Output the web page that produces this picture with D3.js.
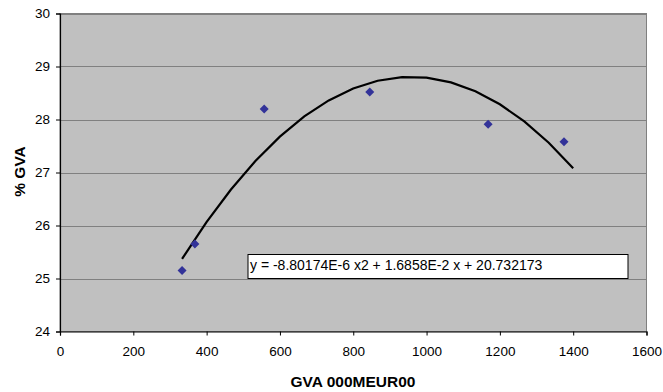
<!DOCTYPE html>
<html>
<head>
<meta charset="utf-8">
<script src="https://cdn.jsdelivr.net/npm/d3@7"></script>
<style>
  html, body { margin: 0; padding: 0; background: #fff; }
  svg { display: block; font-family: Arial, "Liberation Sans", sans-serif; }
</style>
</head>
<body>
<svg id="chart" width="663" height="392"></svg>
<script>
// Observed GVA (000 MEUR) against share of GVA (%)
const gvaValues = [333, 368, 557, 845, 1168, 1375];
const gvaShare  = [25.15, 25.65, 28.20, 28.52, 27.91, 27.58];

// Quadratic trendline: y = a x^2 + b x + c
const trendCoef = { a: -8.80174e-6, b: 1.6858e-2, c: 20.732173 };
const trendRange = [333, 1400];
const trendLabel = "y = -8.80174E-6 x2 + 1.6858E-2 x + 20.732173";

const xTicks = [0, 200, 400, 600, 800, 1000, 1200, 1400, 1600];
const yTicks = [24, 25, 26, 27, 28, 29, 30];

const svg = d3.select("#chart");
const plot = { left: 60, top: 13.5, right: 646.5, bottom: 331.5 };

const x = d3.scaleLinear().domain([0, 1600]).range([plot.left, plot.right]);
const y = d3.scaleLinear().domain([24, 30]).range([plot.bottom, plot.top]);

// plot background and frame
svg.append("rect")
  .attr("x", plot.left).attr("y", plot.top)
  .attr("width", plot.right - plot.left).attr("height", plot.bottom - plot.top)
  .attr("fill", "#c0c0c0").attr("stroke", "#808080").attr("stroke-width", 1);

// horizontal gridlines
svg.append("g").selectAll("line").data(yTicks.slice(1)).join("line")
  .attr("x1", plot.left).attr("x2", plot.right)
  .attr("y1", d => Math.round(y(d)) + 0.5).attr("y2", d => Math.round(y(d)) + 0.5)
  .attr("stroke", "#808080").attr("stroke-width", 1);

// axes
const xAxis = d3.axisBottom(x).tickValues(xTicks).tickSize(4).tickPadding(11).tickFormat(d3.format("d"));
const yAxis = d3.axisLeft(y).tickValues(yTicks).tickSize(4).tickPadding(6).tickFormat(d3.format("d"));

const gx = svg.append("g").attr("transform", `translate(0,${plot.bottom})`).call(xAxis);
const gy = svg.append("g").attr("transform", `translate(${plot.left},0)`).call(yAxis);
[gx, gy].forEach(g => {
  g.select(".domain").attr("stroke", "#000").attr("stroke-width", 1.2);
  g.selectAll(".tick line").attr("stroke", "#000");
  g.selectAll(".tick text").attr("fill", "#000").style("font-size", "13.5px")
    .style("font-family", "Arial, 'Liberation Sans', sans-serif");
});

// trendline
const trendFn = v => trendCoef.a * v * v + trendCoef.b * v + trendCoef.c;
const trendPts = d3.range(trendRange[0], trendRange[1] + 1, (trendRange[1] - trendRange[0]) / 16)
  .map(v => [v, trendFn(v)]);
svg.append("path")
  .datum(trendPts)
  .attr("fill", "none").attr("stroke", "#000").attr("stroke-width", 2.2)
  .attr("d", d3.line().x(d => x(d[0])).y(d => y(d[1])));

// data markers
svg.append("g").selectAll("path").data(gvaValues.map((v, i) => [v, gvaShare[i]])).join("path")
  .attr("transform", d => `translate(${x(d[0])},${y(d[1])})`)
  .attr("d", "M0,-4.5L4.5,0L0,4.5L-4.5,0Z")
  .attr("fill", "#333399");

// trendline equation box
const box = svg.append("g").attr("transform", "translate(248,254.5)");
box.append("rect").attr("width", 380).attr("height", 24)
  .attr("fill", "#fff").attr("stroke", "#000").attr("stroke-width", 1);
box.append("text").attr("x", 2).attr("y", 15.5)
  .style("font-size", "14px").attr("fill", "#000").text(trendLabel);

// axis titles
svg.append("text")
  .attr("x", 353).attr("y", 386.5)
  .attr("text-anchor", "middle").style("font-size", "15.5px").style("font-weight", "bold")
  .text("GVA 000MEUR00");
svg.append("text")
  .attr("transform", `translate(24.5,171.5) rotate(-90)`)
  .attr("text-anchor", "middle").style("font-size", "15.5px").style("font-weight", "bold")
  .text("% GVA");
</script>
</body>
</html>
